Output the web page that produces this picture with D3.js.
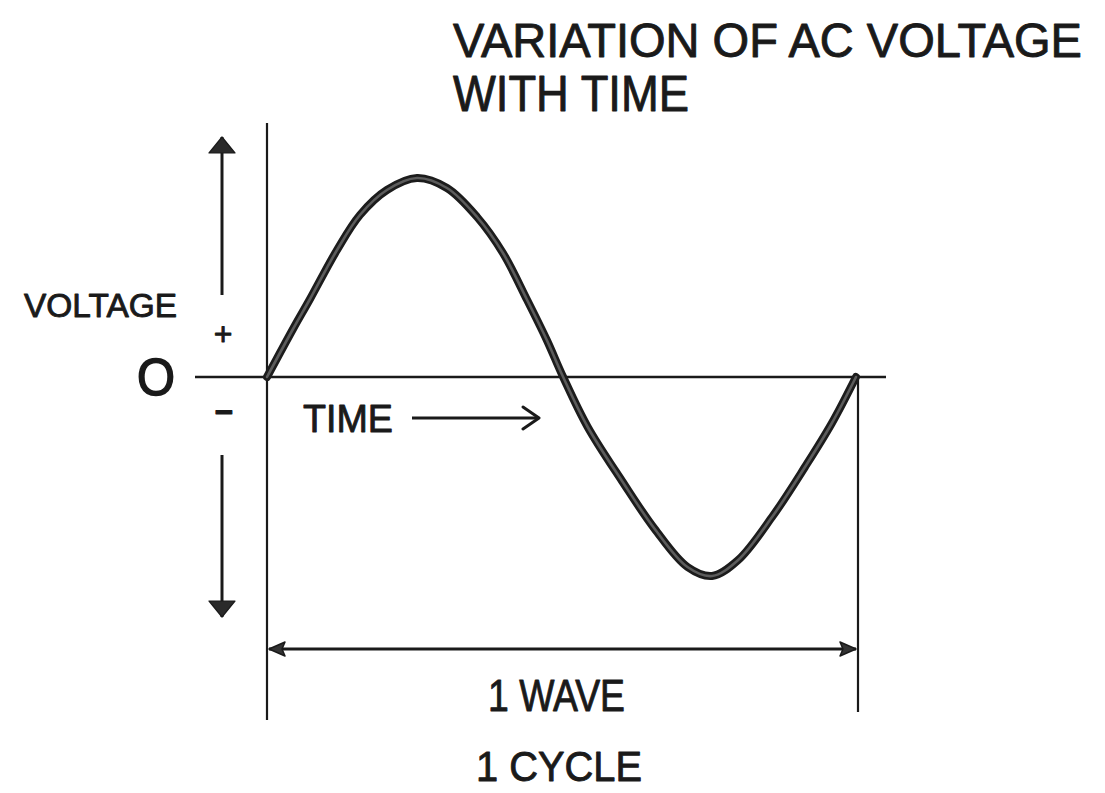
<!DOCTYPE html>
<html>
<head>
<meta charset="utf-8">
<title>Variation of AC Voltage with Time</title>
<script src="https://cdn.jsdelivr.net/npm/d3@7"></script>
<style>
  html, body { margin: 0; padding: 0; background: #ffffff; }
  svg { display: block; }
  text { font-family: "Liberation Sans", "DejaVu Sans", sans-serif; fill: #1a1a1a; stroke: #1a1a1a; stroke-width: 0.9px; stroke-linejoin: round; }
</style>
</head>
<body>
<svg id="chart" width="1105" height="793"></svg>
<script>
// Phase of one full cycle (degrees) and the normalised voltage at each phase
const phaseDeg = [0, 15.9, 26.3, 42.8, 56.8, 73.3, 91.7, 110, 128.4, 144.2, 159, 171, 181,
                  196, 217, 237, 257, 272, 288, 308.7, 328.8, 345.3, 360];
const voltage  = [0, 0.24, 0.39, 0.635, 0.81, 0.935, 0.995, 0.945, 0.80, 0.62, 0.385, 0.185, 0,
                  -0.25, -0.52, -0.76, -0.95, -0.995, -0.915, -0.70, -0.45, -0.23, 0];

// Text
const titleLines = ["VARIATION OF AC VOLTAGE", "WITH TIME"];
const yAxisLabel = "VOLTAGE";
const zeroLabel = "O";
const signLabels = ["+", "\u2212"];
const xAxisLabel = "TIME";
const spanLabels = ["1 WAVE", "1 CYCLE"];

const svg = d3.select("#chart");
const ink = "#1a1a1a";

// Scales: one cycle across the plot, +/- peak voltage up and down
const x = d3.scaleLinear().domain([0, 360]).range([267, 856]);
const y = d3.scaleLinear().domain([-1, 1]).range([577, 177]);
const y0 = y(0);

// Arrowhead markers
const defs = svg.append("defs");
defs.append("marker")
  .attr("id", "head-fill")
  .attr("viewBox", "0 0 18 16")
  .attr("refX", 17).attr("refY", 8)
  .attr("markerWidth", 18).attr("markerHeight", 16)
  .attr("markerUnits", "userSpaceOnUse")
  .attr("orient", "auto-start-reverse")
  .append("path")
  .attr("d", "M1,1 L17,8 L1,15 L4,8 Z")
  .attr("fill", "#333").attr("stroke", ink).attr("stroke-width", 1.5)
  .attr("stroke-linejoin", "round");

defs.append("marker")
  .attr("id", "head-big")
  .attr("viewBox", "0 0 18 28")
  .attr("refX", 17).attr("refY", 14)
  .attr("markerWidth", 18).attr("markerHeight", 28)
  .attr("markerUnits", "userSpaceOnUse")
  .attr("orient", "auto")
  .append("path")
  .attr("d", "M1,1 L17,14 L1,27 Z")
  .attr("fill", "#2a2a2a").attr("stroke", ink).attr("stroke-width", 1.2)
  .attr("stroke-linejoin", "round");

defs.append("marker")
  .attr("id", "head-open")
  .attr("viewBox", "0 0 20 26")
  .attr("refX", 18).attr("refY", 13)
  .attr("markerWidth", 20).attr("markerHeight", 26)
  .attr("markerUnits", "userSpaceOnUse")
  .attr("orient", "auto")
  .append("path")
  .attr("d", "M2,2 L18,13 L2,24")
  .attr("fill", "none").attr("stroke", ink).attr("stroke-width", 3)
  .attr("stroke-linecap", "round").attr("stroke-linejoin", "round");

// Title
const title = svg.append("g");
title.append("text")
  .attr("x", 453).attr("y", 57)
  .attr("font-size", 48)
  .attr("textLength", 629).attr("lengthAdjust", "spacingAndGlyphs")
  .text(titleLines[0]);
title.append("text")
  .attr("x", 453).attr("y", 111)
  .attr("font-size", 50)
  .attr("textLength", 236).attr("lengthAdjust", "spacingAndGlyphs")
  .text(titleLines[1]);

// Axes
const axes = svg.append("g").attr("stroke", ink).attr("fill", "none");
axes.append("line")
  .attr("x1", x(0)).attr("x2", x(0))
  .attr("y1", 123).attr("y2", 720)
  .attr("stroke-width", 2.2);
axes.append("line")
  .attr("x1", 195).attr("x2", 886)
  .attr("y1", y0).attr("y2", y0)
  .attr("stroke-width", 2.6);
// End-of-cycle marker line
axes.append("line")
  .attr("x1", x(360) + 2).attr("x2", x(360) + 2)
  .attr("y1", y0).attr("y2", 712)
  .attr("stroke-width", 2.2);

// Voltage direction arrows
const vx = 222;
axes.append("line")
  .attr("x1", vx).attr("x2", vx)
  .attr("y1", 295).attr("y2", 137)
  .attr("stroke-width", 3)
  .attr("marker-end", "url(#head-big)");
axes.append("line")
  .attr("x1", vx).attr("x2", vx)
  .attr("y1", 455).attr("y2", 617)
  .attr("stroke-width", 3)
  .attr("marker-end", "url(#head-big)");

// Time arrow
axes.append("line")
  .attr("x1", 412).attr("x2", 539)
  .attr("y1", 418).attr("y2", 418)
  .attr("stroke-width", 2.8)
  .attr("marker-end", "url(#head-open)");

// One-cycle span arrow
axes.append("line")
  .attr("x1", x(0) + 2).attr("x2", x(360))
  .attr("y1", 649).attr("y2", 649)
  .attr("stroke-width", 2.8)
  .attr("marker-start", "url(#head-fill)")
  .attr("marker-end", "url(#head-fill)");

// Axis labels
svg.append("text")
  .attr("x", 24).attr("y", 317)
  .attr("font-size", 34)
  .attr("textLength", 153).attr("lengthAdjust", "spacingAndGlyphs")
  .text(yAxisLabel);
svg.append("text")
  .attr("x", 156).attr("y", 395)
  .attr("text-anchor", "middle")
  .attr("font-size", 52)
  .attr("textLength", 38).attr("lengthAdjust", "spacingAndGlyphs")
  .style("stroke-width", "1.6px")
  .text(zeroLabel);
svg.append("text")
  .attr("x", 223).attr("y", 345)
  .attr("text-anchor", "middle")
  .attr("font-size", 32)
  .text(signLabels[0]);
svg.append("text")
  .attr("x", 224).attr("y", 423)
  .attr("text-anchor", "middle")
  .attr("font-size", 32).attr("font-weight", "bold")
  .text(signLabels[1]);
svg.append("text")
  .attr("x", 303).attr("y", 432)
  .attr("font-size", 38)
  .attr("textLength", 90).attr("lengthAdjust", "spacingAndGlyphs")
  .text(xAxisLabel);

// Span labels
svg.append("text")
  .attr("x", 488).attr("y", 711)
  .attr("font-size", 44)
  .attr("textLength", 137).attr("lengthAdjust", "spacingAndGlyphs")
  .text(spanLabels[0]);
svg.append("text")
  .attr("x", 476).attr("y", 781)
  .attr("font-size", 42)
  .attr("textLength", 166).attr("lengthAdjust", "spacingAndGlyphs")
  .text(spanLabels[1]);

// The wave
const points = phaseDeg.map((p, i) => [p, voltage[i]]);
const line = d3.line()
  .x(d => x(d[0]))
  .y(d => y(d[1]))
  .curve(d3.curveCatmullRom.alpha(0.5));

const wave = svg.append("g").attr("fill", "none").attr("stroke-linecap", "round").attr("stroke-linejoin", "round");
wave.append("path")
  .datum(points)
  .attr("d", line)
  .attr("stroke", "#1c1c1c")
  .attr("stroke-width", 8);
wave.append("path")
  .datum(points)
  .attr("d", line)
  .attr("stroke", "#5c5c5c")
  .attr("stroke-width", 2.6);
</script>
</body>
</html>
